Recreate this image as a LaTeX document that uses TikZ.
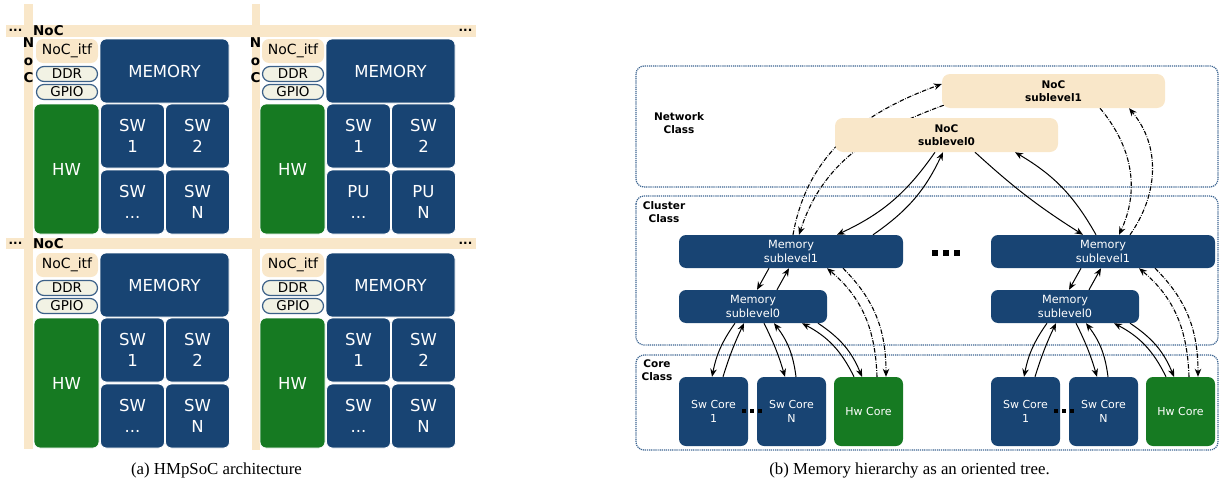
\documentclass[tikz,border=0pt]{standalone}
\usepackage{fontspec}
\setmainfont{DejaVu Sans}
\newfontfamily\capfont{Liberation Serif}
\usetikzlibrary{arrows.meta,backgrounds}

\definecolor{socblue}{HTML}{184473}
\definecolor{socgreen}{HTML}{167A22}
\definecolor{nocbeige}{HTML}{F9E7C9}
\definecolor{pinfill}{HTML}{F2F2E4}
\definecolor{frameblue}{HTML}{3A6390}

\tikzset{
  tile/.style={rounded corners=6pt, inner sep=0pt, draw=white, line width=0.8pt, text=white, align=center, font=\fontsize{16.5}{21}\selectfont},
  swtile/.style={tile, fill=socblue, minimum width=64pt, minimum height=64pt},
  memtile/.style={tile, fill=socblue, minimum width=129pt, minimum height=64pt},
  hwtile/.style={tile, fill=socgreen, minimum width=65pt, minimum height=130pt},
  itftile/.style={rounded corners=7pt, inner sep=0pt, fill=nocbeige, minimum width=62pt, minimum height=24pt, font=\fontsize{14}{16}\selectfont},
  pin/.style={rounded corners=7.5pt, inner sep=0pt, fill=pinfill, draw=socblue!85!white, line width=1.2pt, minimum width=61pt, minimum height=15pt, font=\fontsize{13.5}{15}\selectfont},
  barlbl/.style={inner sep=0pt, font=\bfseries\fontsize{13.5}{15}\selectfont},
  bardots/.style={inner sep=0pt, font=\bfseries\fontsize{12}{14}\selectfont},
  frame/.style={draw=frameblue, dash pattern=on 1.2pt off 0.9pt, line width=1.2pt, rounded corners=8pt},
  classlbl/.style={inner sep=0pt, align=center, font=\bfseries\fontsize{10.5}{13}\selectfont},
  noc/.style={rounded corners=8pt, inner sep=0pt, fill=nocbeige, minimum width=223pt, minimum height=34pt, align=center, font=\bfseries\fontsize{10.5}{13.5}\selectfont},
  memnode/.style={rounded corners=7pt, inner sep=0pt, fill=socblue, text=white, minimum height=33pt, align=center, font=\fontsize{11.3}{13.5}\selectfont},
  core/.style={rounded corners=7pt, inner sep=0pt, text=white, minimum width=69pt, minimum height=69pt, align=center, font=\fontsize{11}{13.5}\selectfont},
  link/.style={-{Stealth[length=8pt,width=6.5pt]}, line width=1pt},
  hwlink/.style={link, line width=1.1pt, dash pattern=on 4.5pt off 1.5pt on 0.6pt off 1.5pt},
  capt/.style={inner sep=0pt, anchor=base, font=\capfont\fontsize{16.8}{20}\selectfont}
}

\begin{document}
\begin{tikzpicture}[x=1pt,y=1pt]
\useasboundingbox (0,0) rectangle (1221,-479);

\fill[nocbeige] (6,-25) rectangle (476,-37);
\fill[nocbeige] (6,-238) rectangle (476,-249);
\fill[nocbeige] (24,-4) rectangle (33,-449);
\fill[nocbeige] (252,-4) rectangle (260,-450);

\node[bardots] (dots-tl) at (15.5,-30) {...};
\node[bardots] (dots-tr) at (465.5,-30) {...};
\node[bardots] (dots-ml) at (15.5,-243) {...};
\node[bardots] (dots-mr) at (465.5,-243) {...};
\node[barlbl, anchor=west] (noc-top) at (33,-31) {NoC};
\node[barlbl, anchor=west] (noc-mid) at (33,-244) {NoC};
\foreach \x/\k in {28.5/a,255.5/b} {
  \node[barlbl, anchor=base] (vn-\k) at (\x,-47) {N};
  \node[barlbl, anchor=base] (vo-\k) at (\x,-65) {o};
  \node[barlbl, anchor=base] (vc-\k) at (\x,-82) {C};
}

\foreach \dx/\dy/\k/\pu in {0/0/a/SW,226/0/b/PU,0/214/c/SW,226/214/d/SW} {
  \begin{scope}[shift={(\dx,-\dy)}]
  \node[itftile] (itf-\k) at (67,-51) {NoC\_itf};
  \node[pin] (ddr-\k) at (67,-74) {DDR};
  \node[pin] (gpio-\k) at (67,-92) {GPIO};
  \node[memtile] (mem-\k) at (164.5,-71) {MEMORY};
  \node[hwtile] (hw-\k) at (66.5,-169) {HW};
  \node[swtile] (sw1-\k) at (132.5,-136) {SW\\1};
  \node[swtile] (sw2-\k) at (197.5,-136) {SW\\2};
  \node[swtile] (sw3-\k) at (132.5,-202) {\pu\\...};
  \node[swtile] (sw4-\k) at (197.5,-202) {\pu\\N};
  \end{scope}
}

\node[capt] (cap-a) at (216.5,-474) {(a) HMpSoC architecture};

\node[noc] (noc1) at (1053.5,-91) {NoC\\sublevel1};
\node[noc] (noc0) at (946.5,-135) {NoC\\sublevel0};
\node[memnode, minimum width=224pt] (mem1-l) at (791,-251.5) {Memory\\sublevel1};
\node[memnode, minimum width=224pt] (mem1-r) at (1103,-251.5) {Memory\\sublevel1};
\node[memnode, minimum width=148pt] (mem0-l) at (753,-306.5) {Memory\\sublevel0};
\node[memnode, minimum width=148pt] (mem0-r) at (1065,-306.5) {Memory\\sublevel0};
\foreach \x/\s in {0/l,312/r} {
  \node[core, fill=socblue] (sw1-\s) at (713.5+\x,-411.5) {Sw Core\\1};
  \node[core, fill=socblue] (swn-\s) at (791.5+\x,-411.5) {Sw Core\\N};
  \node[core, fill=socgreen] (hw-\s) at (868.5+\x,-411.5) {Hw Core};
  \foreach \d in {742,750,758} \fill (\d+\x,-409) rectangle ++(4,-4);
}
\foreach \d in {932,943,954} \fill (\d,-250) rectangle ++(6,-6);

\node[classlbl] (net-lbl) at (679,-123.5) {Network\\Class};
\node[classlbl] (clu-lbl) at (664,-212.5) {Cluster\\Class};
\node[classlbl] (core-lbl) at (657,-370.5) {Core\\Class};

\node[capt] (cap-b) at (909.5,-474) {(b) Memory hierarchy as an oriented tree.};

\begin{pgfonlayer}{background}
\draw[frame] (636,-66) rectangle (1218,-187);
\draw[frame] (636,-196) rectangle (1218,-345);
\draw[frame] (636,-355) rectangle (1218,-450);

\draw[link] ([xshift=-11.5pt]noc0.south) to[bend left=15] ([xshift=46pt]mem1-l.north);
\draw[link] ([xshift=82pt]mem1-l.north) to[bend right=15] ([xshift=-3.5pt]noc0.south);
\draw[link] ([xshift=28.5pt]noc0.south) to[bend right=5] ([xshift=-20pt]mem1-r.north);
\draw[link] ([xshift=-7pt]mem1-r.north) to[bend right=15] ([xshift=68.5pt]noc0.south);
\draw[hwlink] ([xshift=2pt]mem1-l.north) to[out=80,in=200] ([yshift=7pt]noc1.west);
\draw[hwlink] ([xshift=2pt,yshift=3pt]noc1.south west) to[out=200,in=72] ([xshift=8pt]mem1-l.north);
\draw[hwlink] ([xshift=46.5pt]noc1.south) to[out=-50,in=65] ([xshift=16pt]mem1-r.north);
\draw[hwlink] ([xshift=27pt]mem1-r.north) to[out=55,in=-50] ([xshift=75.5pt]noc1.south);

\foreach \s in {l,r} {
  \draw[link] ([xshift=-22pt]mem1-\s.south) -- ([xshift=4pt]mem0-\s.north);
  \draw[link] ([xshift=24pt]mem0-\s.north) -- ([xshift=-2pt]mem1-\s.south);
  \draw[hwlink] ([xshift=8.5pt]hw-\s.north) to[out=92,in=-40] ([xshift=36pt]mem1-\s.south);
  \draw[hwlink] ([xshift=52pt]mem1-\s.south) to[out=-45,in=90] ([xshift=17.5pt]hw-\s.north);
  \draw[link] ([xshift=-18pt]mem0-\s.south) to[bend right=12] ([xshift=-1.5pt]sw1-\s.north);
  \draw[link] ([xshift=9.5pt]sw1-\s.north) to[bend left=4] ([xshift=-9pt]mem0-\s.south);
  \draw[link] ([xshift=11pt]mem0-\s.south) to[bend left=5] ([xshift=-6.5pt]swn-\s.north);
  \draw[link] ([xshift=4.5pt]swn-\s.north) to[bend right=15] ([xshift=21pt]mem0-\s.south);
  \draw[link] ([xshift=65pt]mem0-\s.south) to[bend left=17] ([xshift=-6.5pt]hw-\s.north);
  \draw[link] ([xshift=-14.5pt]hw-\s.north) to[bend right=18] ([xshift=49pt]mem0-\s.south);
}
\end{pgfonlayer}
\end{tikzpicture}
\end{document}
